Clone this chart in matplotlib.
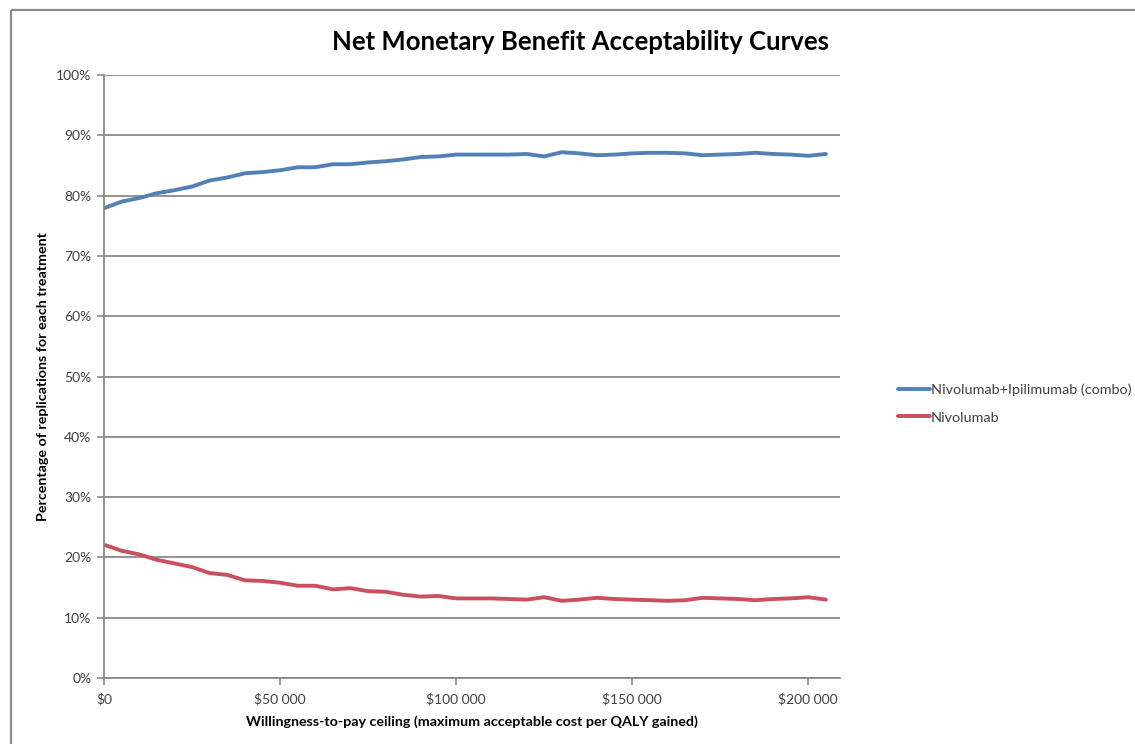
import matplotlib
matplotlib.use("Agg")
import matplotlib.pyplot as plt
from matplotlib.lines import Line2D
from matplotlib.ticker import FuncFormatter, MultipleLocator

plt.rcParams['font.family'] = ['Lato', 'DejaVu Sans']

# Willingness-to-pay ceilings ($ per QALY)
wtp = [0, 5000, 10000, 15000, 20000, 25000, 30000, 35000, 40000, 45000,
       50000, 55000, 60000, 65000, 70000, 75000, 80000, 85000, 90000, 95000,
       100000, 105000, 110000, 115000, 120000, 125000, 130000, 135000, 140000, 145000,
       150000, 155000, 160000, 165000, 170000, 175000, 180000, 185000, 190000, 195000,
       200000, 205000]

# Share of replications (%) in which each treatment has the highest net monetary benefit
combo = [77.9, 79.0, 79.6, 80.4, 80.9, 81.5, 82.5, 83.0, 83.7, 83.9,
         84.2, 84.7, 84.7, 85.2, 85.2, 85.5, 85.7, 86.0, 86.4, 86.5,
         86.8, 86.8, 86.8, 86.8, 86.9, 86.5, 87.2, 87.0, 86.7, 86.8,
         87.0, 87.1, 87.1, 87.0, 86.7, 86.8, 86.9, 87.1, 86.9, 86.8,
         86.6, 86.9]
nivo = [22.1, 21.1, 20.5, 19.6, 19.0, 18.4, 17.4, 17.1, 16.2, 16.1,
        15.8, 15.3, 15.3, 14.7, 14.9, 14.4, 14.3, 13.8, 13.5, 13.6,
        13.2, 13.2, 13.2, 13.1, 13.0, 13.4, 12.8, 13.0, 13.3, 13.1,
        13.0, 12.9, 12.8, 12.9, 13.3, 13.2, 13.1, 12.9, 13.1, 13.2,
        13.4, 13.0]

series_names = ["Nivolumab+Ipilimumab (combo)", "Nivolumab"]
series_colors = ["#5480B8", "#C9505E"]

title = "Net Monetary Benefit Acceptability Curves"
xlabel = "Willingness-to-pay ceiling (maximum acceptable cost per QALY gained)"
ylabel = "Percentage of replications for each treatment"

W, H = 1135, 744
fig = plt.figure(figsize=(W / 100, H / 100), dpi=100)
fig.patch.set_facecolor("white")

# outer chart frame (left and top edges)
frame_kw = dict(color="#8c8c8c", lw=1.6, transform=fig.transFigure, solid_capstyle="butt")
fig.add_artist(Line2D([11 / W, 11 / W], [0, 1 - 10 / H], **frame_kw))
fig.add_artist(Line2D([11 / W, 1], [1 - 10 / H, 1 - 10 / H], **frame_kw))

ax = fig.add_axes([104 / W, 1 - 678 / H, (840 - 104) / W, (678 - 75) / H])
grid_c = "#8a8a8a"
ax.set_xlim(0, 209000)
ax.set_ylim(0, 100)
ax.yaxis.set_major_locator(MultipleLocator(10))
ax.xaxis.set_major_locator(MultipleLocator(50000))
ax.yaxis.set_major_formatter(FuncFormatter(lambda v, p: f"{int(round(v))}%"))
ax.xaxis.set_major_formatter(
    FuncFormatter(lambda v, p: "$0" if v == 0 else "$" + f"{int(v):,}".replace(",", " ")))
ax.grid(axis="y", color=grid_c, lw=1.3)
ax.set_axisbelow(True)
for s in ("top", "right"):
    ax.spines[s].set_visible(False)
for s in ("left", "bottom"):
    ax.spines[s].set_color(grid_c)
    ax.spines[s].set_linewidth(1.3)
ax.tick_params(axis="both", colors=grid_c, labelcolor="#404040", labelsize=10,
               length=5, width=1.2, direction="out")
ax.tick_params(axis="x", pad=6)
ax.tick_params(axis="y", pad=4)

for vals, name, col in zip([combo, nivo], series_names, series_colors):
    ax.plot(wtp, vals, color=col, lw=2.8, label=name,
            solid_joinstyle="round", solid_capstyle="round")

fig.text(580 / W, 1 - 42 / H, title, fontsize=18.5, fontweight="bold",
         color="#000000", ha="center", va="center")
ax.set_xlabel(xlabel, fontsize=10.3, fontweight="bold", labelpad=7)
ax.set_ylabel(ylabel, fontsize=10.3, fontweight="bold", labelpad=5)

leg = ax.legend(loc="center left", bbox_to_anchor=(1.061, 0.455), frameon=False,
                fontsize=10.4, handlelength=2.2, handletextpad=0.1, labelspacing=1.05,
                labelcolor="#404040")

fig.savefig("out.png", dpi=100)
